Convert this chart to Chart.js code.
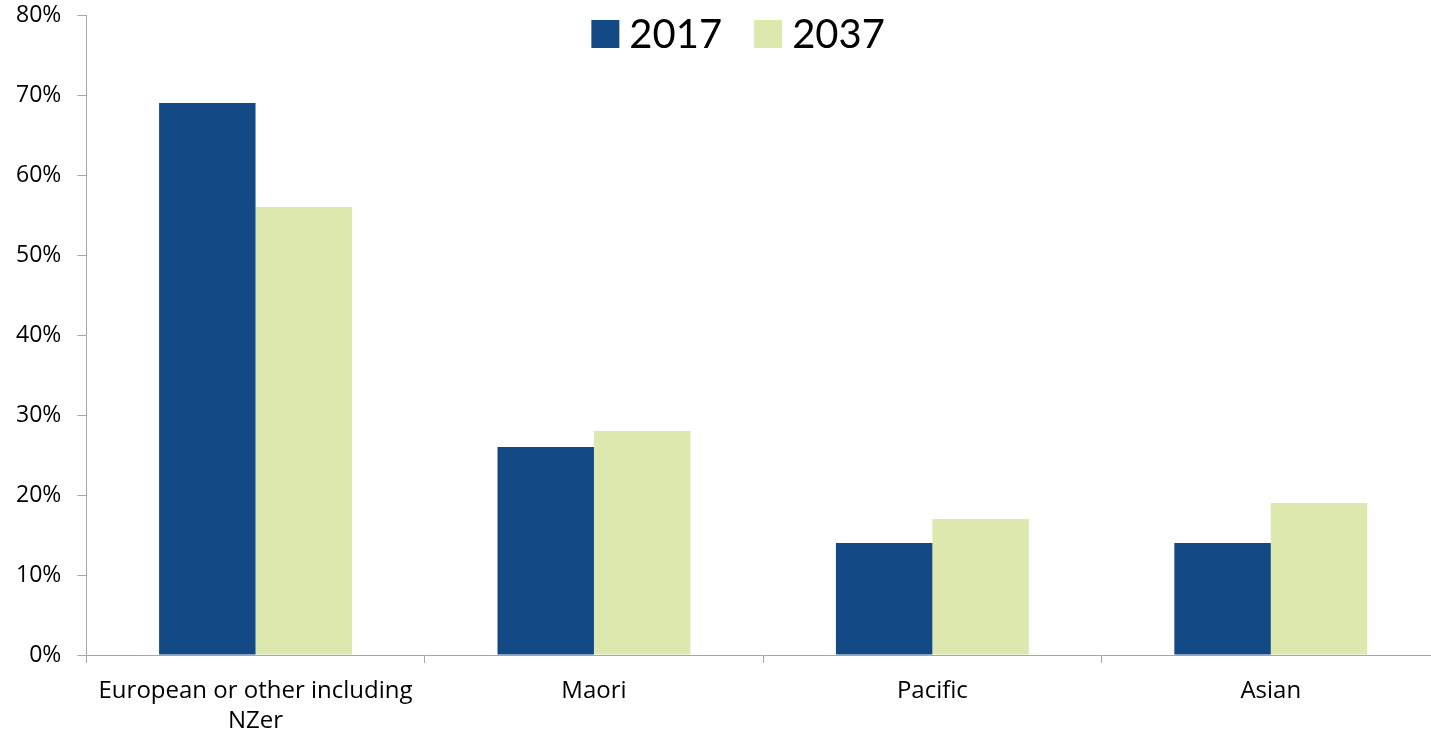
<!DOCTYPE html>
<html>
<head>
<meta charset="utf-8">
<script src="https://cdn.jsdelivr.net/npm/chart.js@4/dist/chart.umd.min.js"></script>
<style>
  html, body { margin: 0; padding: 0; background: #fff; overflow: hidden; }
  .wrap { width: 1440px; height: 732px; }
</style>
</head>
<body>
<div class="wrap"><canvas id="chart"></canvas></div>
<script>
const categories = [["European or other including", "NZer"], "Maori", "Pacific", "Asian"];
const years = ["2017", "2037"];
const share2017 = [69, 26, 14, 14];
const share2037 = [56, 28, 17, 19];
const yTicks = [0, 10, 20, 30, 40, 50, 60, 70, 80];

const axisGrey = "#a6a6a6";

// legend sits inside the plot, top centre, so draw it by hand
const topLegend = {
  id: "topLegend",
  afterDraw(chart) {
    const ctx = chart.ctx;
    const box = 28, gap = 10, itemGap = 32;
    ctx.save();
    ctx.font = "40px Lato";
    ctx.textBaseline = "middle";
    const items = chart.data.datasets.map((ds) => ({
      text: ds.label,
      color: ds.backgroundColor,
      w: box + gap + ctx.measureText(ds.label).width,
    }));
    const total = items.reduce((s, it) => s + it.w, 0) + itemGap * (items.length - 1);
    let x = (chart.chartArea.left + chart.chartArea.right) / 2 - 25 - total / 2;
    const cy = chart.chartArea.top + 19;
    items.forEach((it) => {
      ctx.fillStyle = it.color;
      ctx.fillRect(x, cy - box / 2, box, box);
      ctx.fillStyle = "#000";
      ctx.fillText(it.text, x + box + gap, cy + 1);
      x += it.w + itemGap;
    });
    ctx.restore();
  },
};

new Chart(document.getElementById("chart"), {
  type: "bar",
  data: {
    labels: categories,
    datasets: [
      { label: years[0], data: share2017, backgroundColor: "#134a86" },
      { label: years[1], data: share2037, backgroundColor: "#dce8ae" },
    ],
  },
  options: {
    responsive: true,
    maintainAspectRatio: false,
    animation: false,
    layout: { padding: { top: 15, left: 0, right: 0, bottom: -17 } },
    datasets: { bar: { barPercentage: 1, categoryPercentage: 0.57 } },
    plugins: {
      tooltip: { enabled: false },
      legend: { display: false },
    },
    scales: {
      x: {
        grid: {
          drawOnChartArea: false,
          drawTicks: true,
          tickLength: 8,
          color: axisGrey,
          offset: true,
        },
        border: { color: axisGrey, width: 1 },
        ticks: {
          color: "#000",
          padding: 13,
          maxRotation: 0,
          autoSkip: false,
          font: { family: "Open Sans", size: 24, lineHeight: 1.25 },
        },
      },
      y: {
        min: 0,
        max: 80,
        afterBuildTicks(axis) {
          axis.ticks = yTicks.map((v) => ({ value: v }));
        },
        afterFit(axis) {
          axis.paddingTop = 0;
        },
        grid: {
          drawOnChartArea: false,
          drawTicks: true,
          tickLength: 9,
          color: axisGrey,
        },
        border: { color: axisGrey, width: 1 },
        ticks: {
          color: "#000",
          padding: 16,
          callback: (v) => v + "%",
          font: { family: "Open Sans", size: 23 },
        },
      },
    },
  },
  plugins: [topLegend],
});
</script>
</body>
</html>
